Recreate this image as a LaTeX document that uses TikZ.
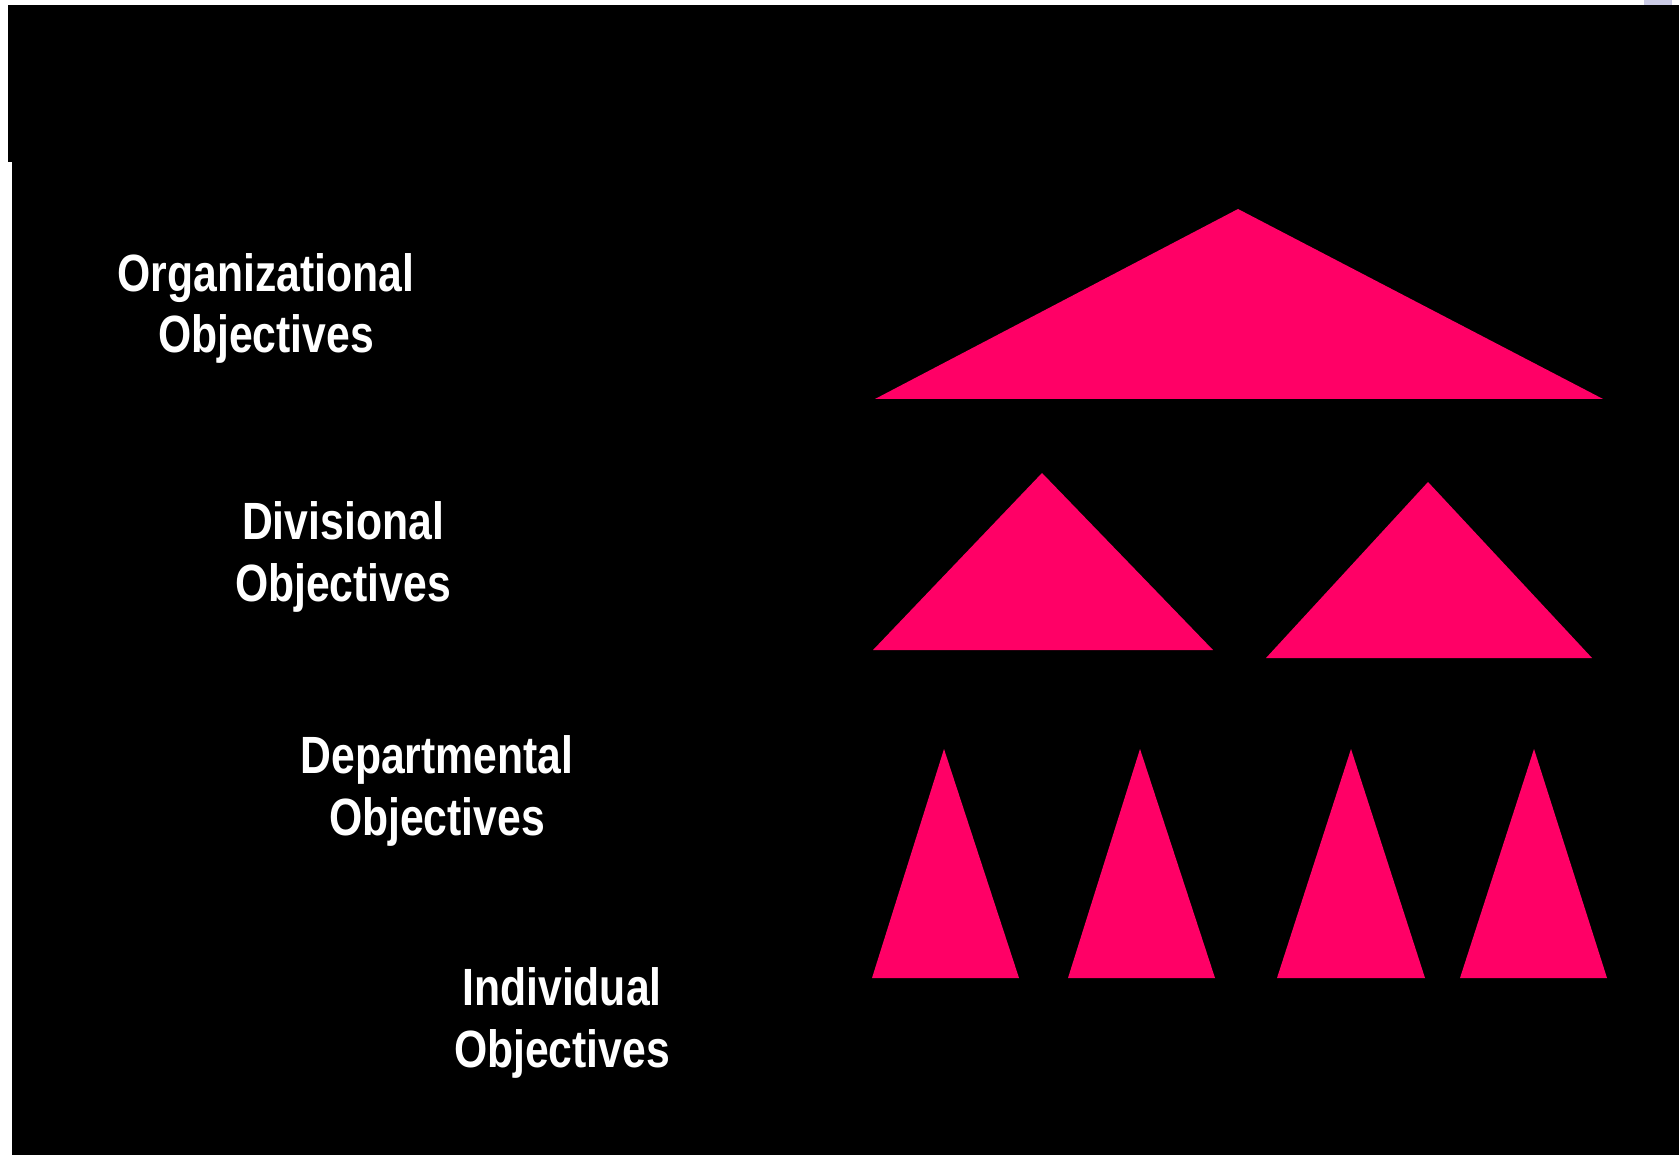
\documentclass[tikz,border=0pt]{standalone}
\usepackage{fontspec}
\setmainfont{Liberation Sans}[FakeStretch=0.815]
\definecolor{pyrpink}{HTML}{FF0066}
\definecolor{lavpatch}{HTML}{CCCCE6}

\begin{document}
\begin{tikzpicture}[x=0.01cm,y=-0.01cm,
	lbl/.style={text=white,font=\fontsize{14.9}{17.6}\selectfont\bfseries,align=center,anchor=base},
	tri/.style={fill=pyrpink}]
\useasboundingbox (0,0) rectangle (1679,1155);
\fill[black] (8,5) rectangle (1679,162);
\fill[black] (12,162) rectangle (1679,1155);
\fill[lavpatch] (1644,0) rectangle (1672,5);

\node[lbl] (org) at (266,353) {Organizational\\Objectives};
\node[lbl] (div) at (343,601) {Divisional\\Objectives};
\node[lbl] (dep) at (437,835) {Departmental\\Objectives};
\node[lbl] (ind) at (562,1067) {Individual\\Objectives};

% organisation
\fill[tri] (875,399) -- (1238,209) -- (1603,399) -- cycle;
% divisions
\fill[tri] (873,650) -- (1042,473) -- (1213,650) -- cycle;
\fill[tri] (1266,658) -- (1428,482) -- (1592,658) -- cycle;
% departments
\foreach \l/\t/\r in {872/944/1019, 1068/1140/1215, 1277/1351/1425, 1460/1534/1607}
	\fill[tri] (\l,978) -- (\t,749) -- (\r,978) -- cycle;
\end{tikzpicture}
\end{document}
